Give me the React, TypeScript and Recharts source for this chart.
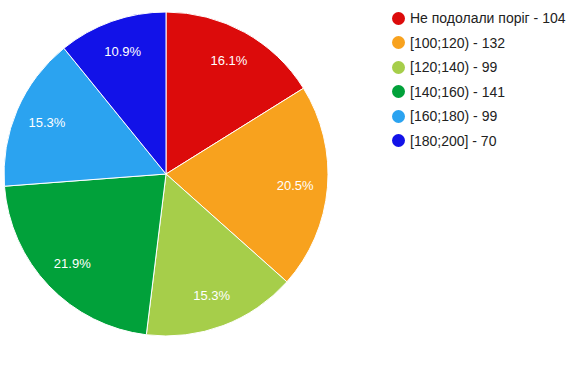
import { Cell, Legend, Pie, PieChart } from "recharts";

const categories = ["Не подолали поріг", "[100;120)", "[120;140)", "[140;160)", "[160;180)", "[180;200]"];
const counts = [104, 132, 99, 141, 99, 70];
const colors = ["#dc0b0b", "#f8a21e", "#a6ce4a", "#01a13a", "#2ba3f0", "#1212e8"];

const data = categories.map((name, i) => ({ name, value: counts[i] }));

const RADIAN = Math.PI / 180;

function renderLabel(props: any) {
  const { cx, cy, midAngle, outerRadius, percent } = props;
  const r = outerRadius * 0.8;
  const x = cx + r * Math.cos(-midAngle * RADIAN);
  const y = cy + r * Math.sin(-midAngle * RADIAN);
  return (
    <text x={x} y={y} fill="#ffffff" fontSize={13} textAnchor="middle" dominantBaseline="central">
      {(percent * 100).toFixed(1)}%
    </text>
  );
}

function LegendList() {
  return (
    <div>
      {data.map((d, i) => (
        <div key={d.name} style={{ display: "flex", alignItems: "center", height: 24.5 }}>
          <svg width={13} height={13} style={{ marginRight: 5 }}>
            <circle cx={6.5} cy={6.5} r={6.5} fill={colors[i]} />
          </svg>
          <span style={{ fontSize: 14, color: "#222222", whiteSpace: "nowrap" }}>
            {d.name} - {d.value}
          </span>
        </div>
      ))}
    </div>
  );
}

export default function App() {
  return (
    <div style={{ position: "absolute", left: 0, top: 0, background: "#ffffff", fontFamily: "Arial, 'Liberation Sans', sans-serif" }}>
      <PieChart width={580} height={386} margin={{ top: 0, right: 0, bottom: 0, left: 0 }}>
        <Pie
          data={data}
          dataKey="value"
          nameKey="name"
          cx={166}
          cy={174}
          outerRadius={162}
          startAngle={90}
          endAngle={-270}
          stroke="#ffffff"
          strokeWidth={1}
          label={renderLabel}
          labelLine={false}
          isAnimationActive={false}
        >
          {data.map((d, i) => (
            <Cell key={d.name} fill={colors[i]} />
          ))}
        </Pie>
        <Legend
          layout="vertical"
          align="right"
          verticalAlign="top"
          content={() => <LegendList />}
          wrapperStyle={{ position: "absolute", left: 392, top: 6, width: 190 }}
        />
      </PieChart>
    </div>
  );
}
